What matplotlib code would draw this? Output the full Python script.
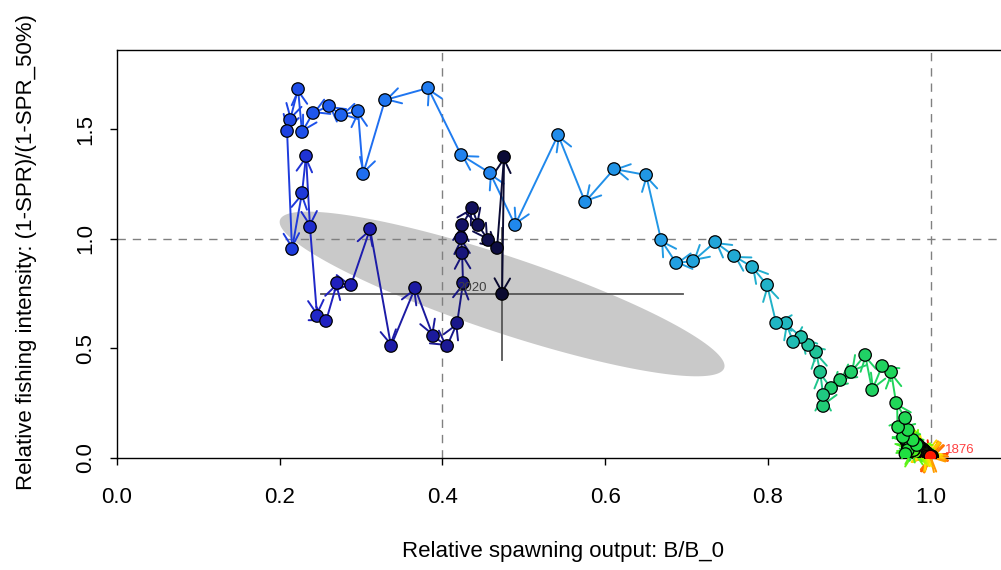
import numpy as np
import matplotlib
matplotlib.use('Agg')
import matplotlib.pyplot as plt
from matplotlib.colors import LinearSegmentedColormap
from matplotlib.patches import Polygon

plt.rcParams['font.family'] = ['Liberation Sans', 'DejaVu Sans']

# ---- data: relative spawning output (B/B0) and relative fishing intensity, 1876-2020
years = list(range(1876, 2021))

bratio = [
    0.999, 1.000, 1.001, 1.000, 1.001, 1.000, 1.001, 1.000, 1.001, 1.000,
    1.001, 1.000, 1.002, 1.000, 1.001, 0.999, 1.000, 0.999, 0.998, 0.999,
    0.998, 0.997, 0.998, 0.996, 0.997, 0.995, 0.996, 0.994, 0.995, 0.993,
    0.994, 0.992, 0.993, 0.991, 0.992, 0.990, 0.991, 0.989, 0.990, 0.988,
    0.989, 0.987, 0.988, 0.986, 0.987, 0.985, 0.986, 0.984, 0.985, 0.983,
    0.985, 0.983, 0.984, 0.981, 0.983, 0.980, 0.982, 0.978, 0.981, 0.977,
    0.980, 0.976, 0.979, 0.974, 0.978, 0.972, 0.975, 0.970, 0.973, 0.968,
    0.975, 0.972, 0.969, 0.983, 0.978, 0.966, 0.972, 0.960,
    0.9686, 0.9576, 0.9514, 0.9404, 0.9281, 0.9195, 0.9023, 0.8888, 0.8777, 0.8679,
    0.8679, 0.8642, 0.8592, 0.8494, 0.8408, 0.8310, 0.8224, 0.8101, 0.7990, 0.7806,
    0.7584, 0.7351, 0.7080, 0.6872, 0.6687, 0.6503, 0.6109, 0.5753, 0.5421, 0.4892,
    0.4585, 0.4229, 0.3823, 0.3294, 0.3024, 0.2962, 0.2754, 0.2606, 0.2409, 0.2274,
    0.2225, 0.2127, 0.2090, 0.2151, 0.2274, 0.2323, 0.2372, 0.2459, 0.2569, 0.2704,
    0.2876, 0.3110, 0.3368, 0.3663, 0.3884, 0.4057, 0.4180, 0.4253, 0.4241, 0.4229,
    0.4241, 0.4364, 0.4438, 0.4561, 0.4671, 0.4757, 0.4733,
]

spr_ratio = [
    0.008, 0.003, 0.005, 0.002, 0.004, 0.003, 0.006, 0.003, 0.005, 0.004,
    0.006, 0.004, 0.007, 0.005, 0.008, 0.006, 0.009, 0.007, 0.010, 0.008,
    0.012, 0.010, 0.014, 0.012, 0.017, 0.015, 0.020, 0.018, 0.024, 0.021,
    0.028, 0.034, 0.030, 0.037, 0.033, 0.040, 0.036, 0.043, 0.039, 0.046,
    0.042, 0.049, 0.045, 0.052, 0.048, 0.055, 0.051, 0.058, 0.054, 0.061,
    0.057, 0.064, 0.060, 0.067, 0.049, 0.036, 0.028, 0.020, 0.026, 0.033,
    0.040, 0.047, 0.036, 0.055, 0.062, 0.048, 0.070, 0.078, 0.065, 0.090,
    0.059, 0.036, 0.018, 0.059, 0.082, 0.096, 0.128, 0.141,
    0.1824, 0.2508, 0.3922, 0.4195, 0.3101, 0.4697, 0.3922, 0.3557, 0.3192, 0.2371,
    0.2873, 0.3922, 0.4834, 0.5153, 0.5518, 0.5290, 0.6156, 0.6156, 0.7889, 0.8710,
    0.9211, 0.9850, 0.8983, 0.8892, 0.9941, 1.2905, 1.3178, 1.1674, 1.4729, 1.0625,
    1.2996, 1.3817, 1.6872, 1.6325, 1.2950, 1.5823, 1.5641, 1.6051, 1.5732, 1.4866,
    1.6826, 1.5413, 1.4911, 0.9530, 1.2084, 1.3771, 1.0534, 0.6475, 0.6247, 0.7980,
    0.7889, 1.0442, 0.5107, 0.7752, 0.5563, 0.5107, 0.6156, 0.7980, 0.9348, 1.0032,
    1.0625, 1.1400, 1.0625, 0.9941, 0.9576, 1.3726, 0.7480,
]

# final-year uncertainty (interval ends and ellipse half-axes)
bratio_ci = [0.251, 0.696]
spr_ci = [0.447, 1.05]
ellipse_major = [0.273, -0.3375]
ellipse_minor = [0.0147, 0.1645]

year_colors = ['#ff1a00', '#ff8000', '#ffe600', '#80ff00', '#20e040', '#20cc70',
               '#20b8c0', '#22a0e0', '#2080f0', '#1e5cf0', '#1e3ee0', '#2020c0',
               '#1a1890', '#0a0a30']
color_stops = [0.0, 0.10, 0.22, 0.36, 0.50, 0.60, 0.655, 0.70, 0.76, 0.80, 0.84, 0.88, 0.93, 1.0]

n = len(years)
cmap = LinearSegmentedColormap.from_list('yrs', list(zip(color_stops, year_colors)))
cols = [cmap(i / (n - 1)) for i in range(n)]

fig = plt.figure(figsize=(10.01, 5.70), dpi=100)
ax = fig.add_axes([117 / 1001, (570 - 458) / 570, 895 / 1001, 408 / 570])
ax.set_xlim(0, 1.1)
ax.set_ylim(0, 1.8605)

# uncertainty ellipse around the last year
cx, cy = bratio[-1], spr_ratio[-1]
t = np.linspace(0, 2 * np.pi, 200)
ex = cx + ellipse_major[0] * np.cos(t) + ellipse_minor[0] * np.sin(t)
ey = cy + ellipse_major[1] * np.cos(t) + ellipse_minor[1] * np.sin(t)
ax.add_patch(Polygon(np.column_stack([ex, ey]), closed=True, facecolor='#c9c9c9',
                     edgecolor='none', zorder=1))

# reference lines
for xv in [0.4, 1.0]:
    ax.axvline(xv, color='#808080', lw=1.0, ls=(0, (6, 5)), zorder=2)
ax.axhline(1.0, color='#808080', lw=1.0, ls=(0, (6, 5)), zorder=2)

# intervals for final year
ax.plot(bratio_ci, [cy, cy], color='#555555', lw=1.3, zorder=2.5)
ax.plot([cx, cx], spr_ci, color='#555555', lw=1.3, zorder=2.5)

# arrows year to year
for i in range(1, n):
    ax.annotate('', xy=(bratio[i], spr_ratio[i]), xytext=(bratio[i - 1], spr_ratio[i - 1]),
                arrowprops=dict(arrowstyle='->,head_length=0.7,head_width=0.4',
                                color=cols[i], lw=1.4, shrinkA=0, shrinkB=0,
                                mutation_scale=14),
                zorder=3)

ax.scatter(bratio, spr_ratio, s=80, c=cols, edgecolors='black', linewidths=0.9, zorder=4)
# first year on top
ax.scatter(bratio[:1], spr_ratio[:1], s=80, c=cols[:1], edgecolors='black',
           linewidths=0.9, zorder=4.5)

ax.text(1.018, 0.036, str(years[0]), color='#ff4040', fontsize=9.5,
        ha='left', va='center', zorder=5)
ax.text(0.454, cy + 0.028, str(years[-1]), color='#404040', fontsize=9.5,
        ha='right', va='center', zorder=5)

ax.set_xticks([0.0, 0.2, 0.4, 0.6, 0.8, 1.0])
ax.set_xticklabels(['0.0', '0.2', '0.4', '0.6', '0.8', '1.0'])
ax.set_yticks([0.0, 0.5, 1.0, 1.5])
ax.set_yticklabels(['0.0', '0.5', '1.0', '1.5'])
ax.tick_params(axis='both', length=5, width=1, labelsize=16, color='black')
ax.tick_params(axis='x', pad=16)
ax.tick_params(axis='y', pad=10)
for lab in ax.get_yticklabels():
    lab.set_rotation(90)
    lab.set_va('center')
for sp in ax.spines.values():
    sp.set_linewidth(1.0)
ax.spines['right'].set_visible(False)

fig.text(563 / 1001, 1 - 551 / 570, 'Relative spawning output: B/B_0', fontsize=16,
         ha='center', va='center')
fig.text(27 / 1001, 1 - 252 / 570, 'Relative fishing intensity: (1-SPR)/(1-SPR_50%)',
         fontsize=16, rotation=90, ha='center', va='center')

fig.savefig('out.png', dpi=100)
